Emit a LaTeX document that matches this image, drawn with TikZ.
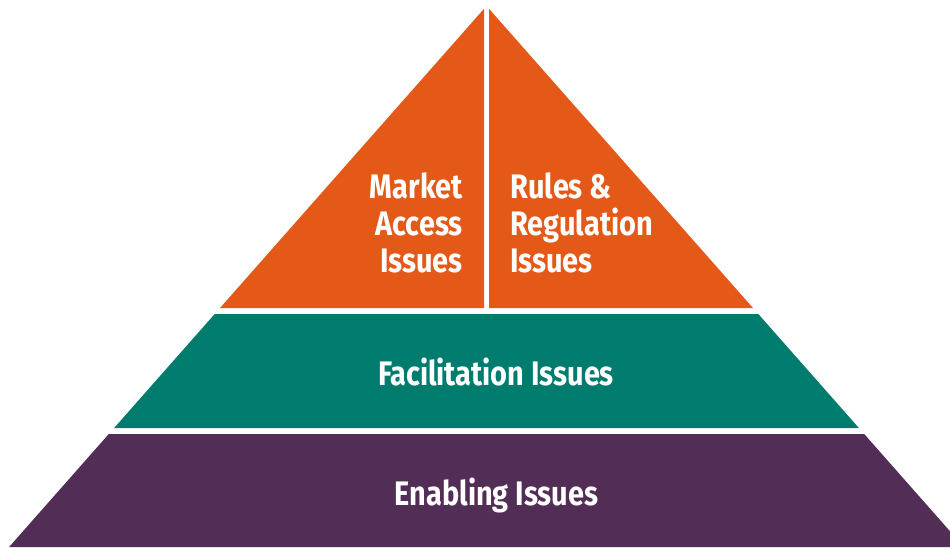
\documentclass[tikz,border=0pt]{standalone}
\usepackage{fontspec}
\setmainfont{Fira Sans}
\newfontfamily\labelfont[FakeStretch=0.85]{Fira Sans}
\definecolor{pyorange}{RGB}{229,89,24}
\definecolor{pyteal}{RGB}{0,124,111}
\definecolor{pypurple}{RGB}{82,45,85}
\tikzset{
  lbl/.style={text=white, inner sep=0pt, font=\labelfont\bfseries\fontsize{34}{37}\selectfont},
}
\begin{document}
\begin{tikzpicture}[x=1pt,y=-1pt]
\useasboundingbox (0,0) rectangle (950,547);
\clip (0,0) rectangle (950,547);
% top band split in two
\fill[pyorange] (220.0,308) -- (484,308) -- (484,8.8) -- cycle;
\fill[pyorange] (489,8.8) -- (489,308) -- (753.0,308) -- cycle;
% middle band
\fill[pyteal] (214.7,314) -- (758.3,314) -- (858.9,428) -- (114.1,428) -- cycle;
% bottom band
\fill[pypurple] (108.8,434) -- (864.2,434) -- (963.9,547) -- (9.1,547) -- cycle;
% labels (base anchor = baseline of the last line)
\node[lbl, align=right, anchor=base east] (market) at (463,272) {Market\\Access\\Issues};
\node[lbl, align=left, anchor=base west] (rules) at (510,272) {Rules \&\\Regulation\\Issues};
\node[lbl, anchor=base] (facil) at (496,385) {Facilitation Issues};
\node[lbl, anchor=base] (enabl) at (496.5,505) {Enabling Issues};
\end{tikzpicture}
\end{document}
